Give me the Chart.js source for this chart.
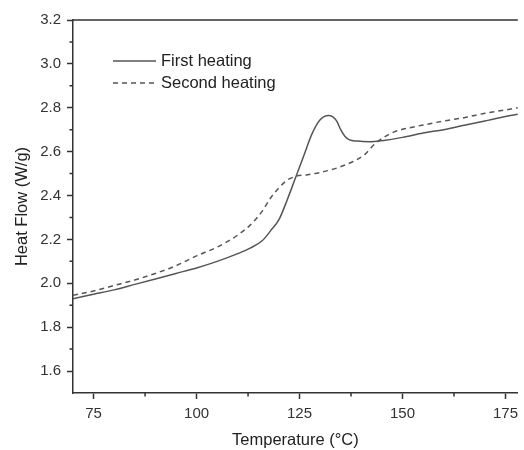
<!DOCTYPE html>
<html>
<head>
<meta charset="utf-8">
<script src="https://cdn.jsdelivr.net/npm/chart.js@4"></script>
<style>
  html, body { margin: 0; padding: 0; background: #fff; }
  #wrap { width: 524px; height: 450px; }
</style>
</head>
<body>
<div id="wrap"><canvas id="dsc"></canvas></div>
<script>
// Dados
const firstT = [70, 75, 80, 85, 90, 95, 100, 105, 110, 113, 116, 118, 120, 122, 124, 126, 128, 130, 132, 133, 134, 135, 136, 137, 139, 142, 145, 150, 155, 160, 165, 170, 175, 178];
const firstHF = [1.93, 1.95, 1.97, 1.995, 2.02, 2.045, 2.07, 2.10, 2.135, 2.16, 2.195, 2.24, 2.29, 2.38, 2.48, 2.58, 2.68, 2.745, 2.765, 2.76, 2.74, 2.70, 2.67, 2.655, 2.648, 2.645, 2.65, 2.665, 2.685, 2.70, 2.72, 2.74, 2.76, 2.77];

const secondT = [70, 75, 80, 85, 90, 95, 100, 105, 110, 113, 116, 118, 120, 122, 124, 127, 130, 134, 138, 141, 143, 145, 148, 152, 156, 160, 165, 170, 175, 178];
const secondHF = [1.945, 1.965, 1.99, 2.015, 2.045, 2.08, 2.125, 2.165, 2.22, 2.265, 2.33, 2.39, 2.435, 2.47, 2.487, 2.495, 2.505, 2.525, 2.555, 2.59, 2.63, 2.66, 2.69, 2.71, 2.725, 2.74, 2.755, 2.775, 2.79, 2.80];

const xTicks = [75, 100, 125, 150, 175];
const xMinor = [87.5, 112.5, 137.5, 162.5];
const yTicks = [1.6, 1.8, 2.0, 2.2, 2.4, 2.6, 2.8, 3.0, 3.2];
const yMinor = [1.7, 1.9, 2.1, 2.3, 2.5, 2.7, 2.9, 3.1];

const AXIS = '#333';
const LINE = '#555';
const FONT = 'Liberation Sans, Arial, sans-serif';

const toXY = (xs, ys) => xs.map((x, i) => ({ x, y: ys[i] }));

// moldura superior, ticks menores e legenda interna
const extras = {
  id: 'extras',
  afterDraw(chart) {
    const { ctx, chartArea: a, scales: { x, y } } = chart;
    ctx.save();
    ctx.strokeStyle = AXIS;
    ctx.lineWidth = 1.5;
    ctx.beginPath();
    ctx.moveTo(a.left, a.top);
    ctx.lineTo(a.right, a.top);
    xMinor.forEach(v => {
      const px = x.getPixelForValue(v);
      ctx.moveTo(px, a.bottom);
      ctx.lineTo(px, a.bottom + 3.5);
    });
    yMinor.forEach(v => {
      const py = y.getPixelForValue(v);
      ctx.moveTo(a.left, py);
      ctx.lineTo(a.left - 3.5, py);
    });
    ctx.stroke();

    ctx.font = '16.5px ' + FONT;
    ctx.fillStyle = '#222';
    ctx.textBaseline = 'middle';
    chart.data.datasets.forEach((ds, i) => {
      const ly = a.top + 41 + i * 22;
      ctx.strokeStyle = ds.borderColor;
      ctx.lineWidth = ds.borderWidth;
      ctx.setLineDash(ds.borderDash || []);
      ctx.beginPath();
      ctx.moveTo(a.left + 40, ly);
      ctx.lineTo(a.left + 83, ly);
      ctx.stroke();
      ctx.setLineDash([]);
      ctx.fillText(ds.label, a.left + 88, ly);
    });
    ctx.restore();
  }
};

new Chart(document.getElementById('dsc'), {
  type: 'line',
  data: {
    datasets: [
      {
        label: 'First heating',
        data: toXY(firstT, firstHF),
        borderColor: LINE,
        borderWidth: 1.5,
        pointRadius: 0,
        cubicInterpolationMode: 'monotone',
        fill: false,
      },
      {
        label: 'Second heating',
        data: toXY(secondT, secondHF),
        borderColor: LINE,
        borderWidth: 1.5,
        borderDash: [5, 4],
        pointRadius: 0,
        cubicInterpolationMode: 'monotone',
        fill: false,
      }
    ]
  },
  options: {
    responsive: true,
    maintainAspectRatio: false,
    animation: false,
    layout: { padding: { top: 20, right: 0, left: 0, bottom: 0 } },
    plugins: { legend: { display: false }, tooltip: { enabled: false } },
    scales: {
      x: {
        type: 'linear',
        min: 70,
        max: 178,
        afterBuildTicks: s => { s.ticks = xTicks.map(v => ({ value: v })); },
        afterFit: s => { s.height = 57; },
        grid: { drawOnChartArea: false, drawTicks: true, tickLength: 6, tickColor: AXIS, tickWidth: 1.5 },
        border: { display: true, color: AXIS, width: 1.5 },
        ticks: { color: '#333', font: { family: FONT, size: 15 }, padding: 6, maxRotation: 0 },
        title: { display: true, text: 'Temperature (°C)', color: '#222', font: { family: FONT, size: 16.5 }, padding: { top: 0, bottom: 0 } }
      },
      y: {
        min: 1.5,
        max: 3.2,
        afterBuildTicks: s => { s.ticks = yTicks.map(v => ({ value: v })); },
        afterFit: s => { s.width = 73; },
        grid: { drawOnChartArea: false, drawTicks: true, tickLength: 6, tickColor: AXIS, tickWidth: 1.5 },
        border: { display: true, color: AXIS, width: 1.5 },
        ticks: { color: '#333', font: { family: FONT, size: 15 }, padding: 6, callback: v => v.toFixed(1) },
        title: { display: true, text: 'Heat Flow (W/g)', color: '#222', font: { family: FONT, size: 16.5 }, padding: { top: 13, bottom: 0 } }
      }
    }
  },
  plugins: [extras]
});
</script>
</body>
</html>
